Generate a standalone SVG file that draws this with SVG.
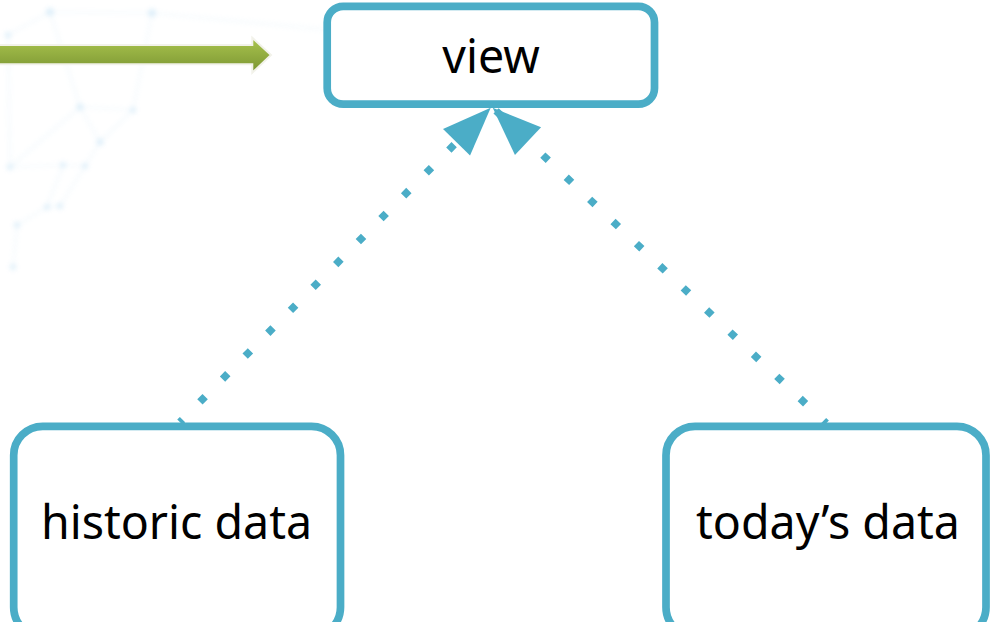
<svg xmlns="http://www.w3.org/2000/svg" width="990" height="622" viewBox="0 0 990 622">
  <style>
    .box { fill: #ffffff; stroke: #4badc7; stroke-width: 7.7; }
    .label { font-family: "Noto Sans", "Open Sans", "DejaVu Sans", sans-serif; font-size: 46.5px; fill: #000000; text-anchor: middle; }
    .link { fill: none; stroke: #4badc7; stroke-width: 7.5; stroke-dasharray: 7.5 24.7; stroke-dashoffset: 3.75; }
    .net line { stroke: #b9dcf2; stroke-width: 1.2; }
    .net circle { fill: #8fc8ec; }
  </style>
  <defs>
    <marker id="head" markerUnits="userSpaceOnUse" orient="auto" refX="0" refY="0" markerWidth="60" markerHeight="60" overflow="visible">
      <path d="M0,0 L-48.6,-19 L-48.6,19 Z" fill="#4badc7"/>
    </marker>
    <linearGradient id="greenFill" x1="0" y1="0" x2="0" y2="1">
      <stop offset="0" stop-color="#aac44e"/>
      <stop offset="1" stop-color="#7a9532"/>
    </linearGradient>
    <filter id="soft" x="-10%" y="-10%" width="120%" height="120%">
      <feGaussianBlur stdDeviation="2.5"/>
    </filter>
  </defs>

  <rect width="990" height="622" fill="#ffffff"/>

  <!-- faint network texture, top left -->
  <g class="net" filter="url(#soft)" opacity="0.3">
    <line x1="50" y1="12" x2="152" y2="13"/>
    <line x1="50" y1="12" x2="8" y2="35"/>
    <line x1="50" y1="12" x2="80" y2="107"/>
    <line x1="152" y1="13" x2="133" y2="110"/>
    <line x1="152" y1="13" x2="330" y2="30"/>
    <line x1="80" y1="107" x2="133" y2="110"/>
    <line x1="80" y1="107" x2="100" y2="142"/>
    <line x1="133" y1="110" x2="100" y2="142"/>
    <line x1="100" y1="142" x2="85" y2="166"/>
    <line x1="10" y1="167" x2="63" y2="165"/>
    <line x1="63" y1="165" x2="85" y2="166"/>
    <line x1="63" y1="165" x2="47" y2="207"/>
    <line x1="85" y1="166" x2="60" y2="206"/>
    <line x1="47" y1="207" x2="60" y2="206"/>
    <line x1="47" y1="207" x2="17" y2="225"/>
    <line x1="17" y1="225" x2="13" y2="267"/>
    <line x1="8" y1="35" x2="10" y2="167"/>
    <line x1="80" y1="107" x2="10" y2="167"/>
    <circle cx="50" cy="12" r="4"/>
    <circle cx="152" cy="13" r="4"/>
    <circle cx="8" cy="35" r="3"/>
    <circle cx="80" cy="107" r="3.5"/>
    <circle cx="133" cy="110" r="3"/>
    <circle cx="100" cy="142" r="3.5"/>
    <circle cx="10" cy="167" r="3"/>
    <circle cx="63" cy="165" r="3"/>
    <circle cx="85" cy="166" r="3"/>
    <circle cx="47" cy="207" r="3"/>
    <circle cx="60" cy="206" r="3"/>
    <circle cx="17" cy="225" r="3"/>
    <circle cx="13" cy="267" r="3"/>
    <circle cx="345" cy="24" r="5"/>
  </g>

  <!-- green arrow pointing at the view node -->
  <g id="green-arrow">
    <path d="M-5,45 L252.3,45 L252.3,37.7 L271,55 L252.3,72.7 L252.3,64.3 L-5,64.3 Z" fill="url(#greenFill)" stroke="#f2f2ea" stroke-width="2" stroke-linejoin="miter"/>
  </g>

  <!-- connectors -->
  <g id="connectors">
    <path class="link" d="M179.9,422.2 L490.7,107.7" marker-end="url(#head)"/>
    <path class="link" d="M826.3,423.2 L492.7,107.7" marker-end="url(#head)"/>
  </g>

  <g id="node-view">
    <rect class="box" x="327.2" y="6.3" width="327.3" height="97.9" rx="16"/>
    <text class="label" x="491" y="73">view</text>
  </g>

  <g id="node-historic">
    <rect class="box" x="13.7" y="426.3" width="326.8" height="210" rx="29"/>
    <text class="label" x="176.5" y="539">historic data</text>
  </g>

  <g id="node-today">
    <rect class="box" x="666" y="426.3" width="320" height="210" rx="29"/>
    <text class="label" x="828" y="539">today’s data</text>
  </g>
</svg>
